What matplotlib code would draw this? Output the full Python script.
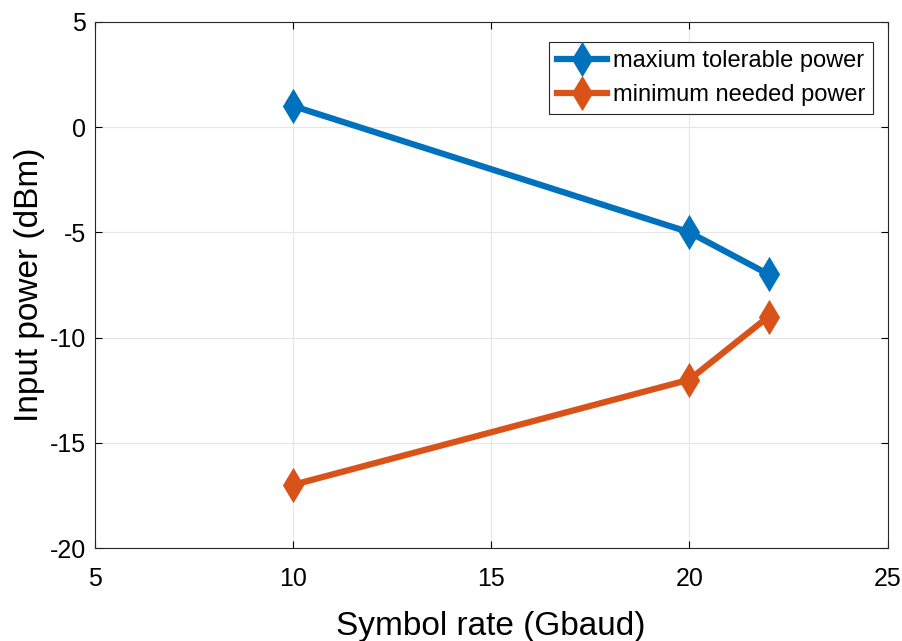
import numpy as np
import matplotlib.pyplot as plt

# symbol rate (Gbaud) and input power (dBm)
rate = [10, 20, 22]
max_power = [1, -5, -7]
min_power = [-17, -12, -9]

plt.rcParams['font.family'] = ['Liberation Sans', 'DejaVu Sans']
plt.rcParams['axes.unicode_minus'] = False

fig = plt.figure(figsize=(9.02, 6.41), dpi=100)
ax = fig.add_axes([0.105, 0.145, 0.879, 0.821])

ax.plot(rate, max_power, color='#0072BD', lw=4.5, marker='d', ms=15, mew=2,
        label='maxium tolerable power')
ax.plot(rate, min_power, color='#D95319', lw=4.5, marker='d', ms=15, mew=2,
        label='minimum needed power')

ax.set_xlim(5, 25)
ax.set_ylim(-20, 5)
ax.set_xticks(np.arange(5, 26, 5))
ax.set_yticks(np.arange(-20, 6, 5))
ax.grid(True, color='#e6e6e6', lw=0.8)
ax.tick_params(direction='in', top=True, right=True, labelsize=18, length=5, width=0.8)
ax.tick_params(axis='x', pad=14)
ax.tick_params(axis='y', pad=6)
for s in ax.spines.values():
    s.set_linewidth(0.8)
    s.set_color('#262626')

ax.set_xlabel('Symbol rate (Gbaud)', fontsize=24, labelpad=14)
ax.set_ylabel('Input power (dBm)', fontsize=24, labelpad=4)

leg = ax.legend(loc='upper right', fancybox=False, framealpha=1,
                edgecolor='#262626', handlelength=2.1, borderpad=0.35,
                labelspacing=0.5, handletextpad=0.25, borderaxespad=0,
                bbox_to_anchor=(0.982, 0.962), prop={'size': 17})
leg.get_frame().set_linewidth(0.8)

fig.savefig('out.png', dpi=100)
